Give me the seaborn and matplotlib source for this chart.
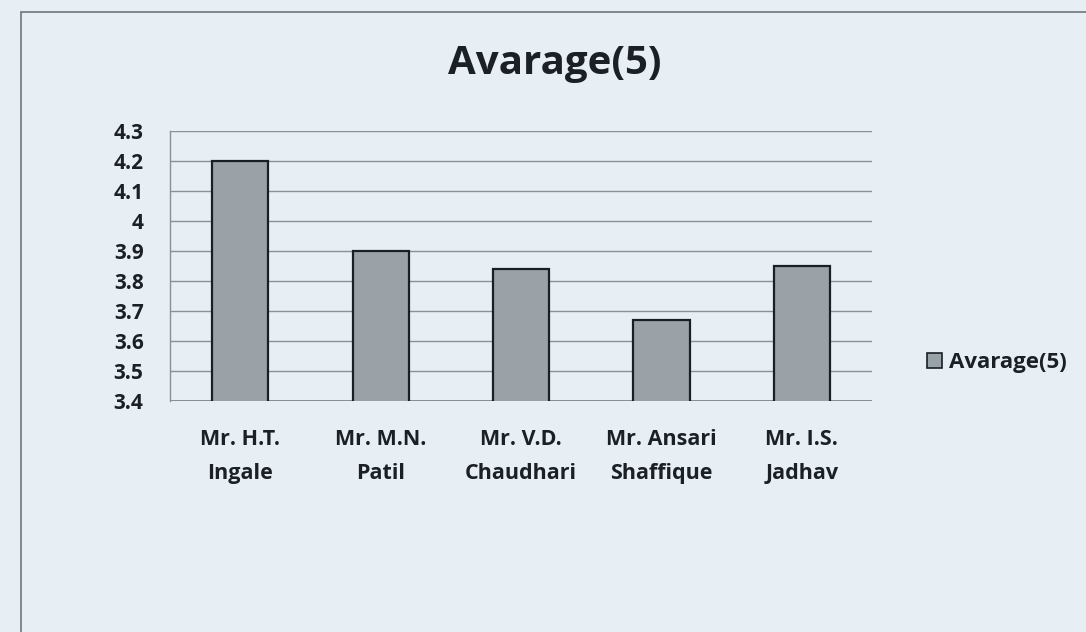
import matplotlib
matplotlib.use("Agg")
import matplotlib.pyplot as plt
import seaborn as sns
import pandas as pd
from matplotlib.patches import Rectangle, Patch

# chart data
teachers = ["Mr. H.T.\nIngale", "Mr. M.N.\nPatil", "Mr. V.D.\nChaudhari",
            "Mr. Ansari\nShaffique", "Mr. I.S.\nJadhav"]
avg5 = [4.2, 3.9, 3.84, 3.67, 3.85]
y_ticks = [3.4, 3.5, 3.6, 3.7, 3.8, 3.9, 4.0, 4.1, 4.2, 4.3]
y_tick_labels = ["3.4", "3.5", "3.6", "3.7", "3.8", "3.9", "4", "4.1", "4.2", "4.3"]
series_name = "Avarage(5)"

df = pd.DataFrame({"teacher": teachers, "value": avg5})

sns.set_style("white")
plt.rcParams["font.family"] = ["Open Sans", "DejaVu Sans"]

bg = "#e8eff4"
bar_color = "#98a3a9"
ink = "#1b2026"

fig = plt.figure(figsize=(10.86, 6.32), dpi=100, facecolor=bg)
ax = fig.add_axes([0.1565, 0.3655, 0.6465, 0.4272])
ax.set_facecolor(bg)

sns.barplot(data=df, x="teacher", y="value", color=bar_color, width=0.4,
            edgecolor="#1a1f24", linewidth=1.6, ax=ax, zorder=3)

ax.set_ylim(3.4, 4.3)
ax.set_yticks(y_ticks)
ax.set_yticklabels(y_tick_labels)
ax.yaxis.grid(True, color="#8a9096", linewidth=1.0)
ax.set_axisbelow(True)
for s in ["top", "right", "bottom"]:
    ax.spines[s].set_visible(False)
ax.spines["left"].set_color("#8a9096")
ax.spines["left"].set_linewidth(1.0)
ax.axhline(3.4, color="#7a8086", linewidth=1.2, zorder=2)
ax.set_xlabel("")
ax.set_ylabel("")
ax.tick_params(axis="both", length=0, colors=ink)
ax.tick_params(axis="x", pad=20, labelsize=15.5)
ax.tick_params(axis="y", pad=19, labelsize=15)
for lbl in ax.get_xticklabels():
    lbl.set_fontweight("bold")
    lbl.set_linespacing(1.8)
for lbl in ax.get_yticklabels():
    lbl.set_fontweight("bold")

fig.text(0.511, 0.90, "Avarage(5)", ha="center", va="center",
         fontsize=29, fontweight="bold", color=ink)

leg = fig.legend(handles=[Patch(facecolor=bar_color, edgecolor="#1a1f24", linewidth=1.2)],
                 labels=[series_name], loc="center left",
                 bbox_to_anchor=(0.835, 0.426), frameon=False,
                 handlelength=0.7, handleheight=0.7, handletextpad=0.3,
                 prop={"size": 16, "weight": "bold"})
for t in leg.get_texts():
    t.set_color(ink)

# outer chart border
fig.patches.append(Rectangle((21 / 1086, -0.05), 1.2, (632 - 12) / 632 + 0.05,
                             transform=fig.transFigure, fill=False,
                             edgecolor="#6e757b", linewidth=1.2))

fig.savefig("out.png", dpi=100, facecolor=bg)
